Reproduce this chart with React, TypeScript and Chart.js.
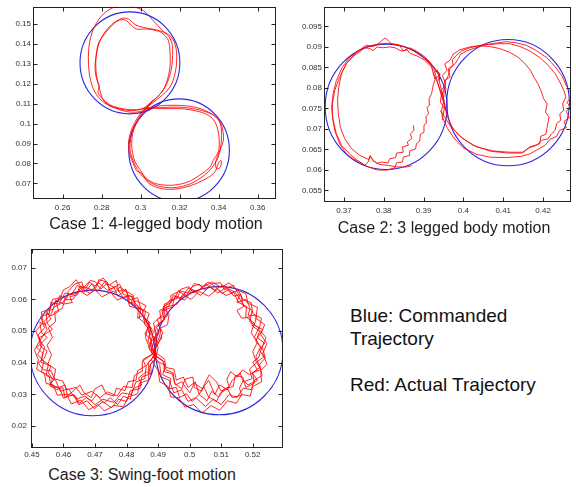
import React, { useEffect, useRef } from "react";
import { Chart, registerables } from "chart.js";

Chart.register(...registerables);

type P = [number, number];

const FONT = "'Liberation Sans', Arial, Helvetica, sans-serif";
const RED = "rgba(255,0,0,0.85)";
const BLUE = "rgb(40,40,225)";

// ---------------- Case 1: 4-legged body motion ----------------
const CASE1_X_TICKS = [0.26, 0.28, 0.3, 0.32, 0.34, 0.36];
const CASE1_Y_TICKS = [0.07, 0.08, 0.09, 0.1, 0.11, 0.12, 0.13, 0.14, 0.15];
const CASE1_X_RANGE = [0.2448, 0.3694];
const CASE1_Y_RANGE = [0.06215, 0.15865];
const CASE1_CMD_CX = [0.2945, 0.3197];
const CASE1_CMD_CY = [0.1305, 0.0866];
const CASE1_CMD_R = [0.0256, 0.0258];
const CASE1_RUN_A: P[] = [
  [0.3014, 0.1075], [0.3065, 0.1117], [0.3108, 0.1158], [0.3133, 0.1208], [0.315, 0.1283], [0.315, 0.1367],
  [0.3142, 0.1417], [0.3116, 0.145], [0.3082, 0.1467], [0.3031, 0.1475], [0.2979, 0.1475], [0.2954, 0.1492],
  [0.2928, 0.1517], [0.2903, 0.1522], [0.2877, 0.1513], [0.2843, 0.1483], [0.2809, 0.1442], [0.2783, 0.14],
  [0.2771, 0.1333], [0.2771, 0.1267], [0.2778, 0.1217], [0.2791, 0.1167], [0.2805, 0.1125], [0.2826, 0.11],
  [0.2868, 0.108], [0.2928, 0.1067], [0.2979, 0.1067], [0.3022, 0.1075], [0.3099, 0.108], [0.3185, 0.1083],
  [0.327, 0.1075], [0.3338, 0.1058], [0.339, 0.1033], [0.341, 0.0992], [0.3415, 0.0942], [0.341, 0.0883],
  [0.3398, 0.0833], [0.3381, 0.08], [0.3347, 0.0758], [0.3304, 0.0725], [0.3253, 0.0697], [0.3185, 0.068],
  [0.3125, 0.068], [0.3074, 0.0692], [0.3031, 0.0717], [0.2997, 0.075], [0.2971, 0.0792], [0.2954, 0.0833],
  [0.2945, 0.0875], [0.2949, 0.0925], [0.2962, 0.0975], [0.2983, 0.1017], [0.3005, 0.105], [0.3031, 0.1083],
  [0.3065, 0.112],
];
const CASE1_RUN_B: P[] = [
  [0.3039, 0.1087], [0.3099, 0.1133], [0.315, 0.1183], [0.3176, 0.125], [0.3185, 0.1333], [0.3176, 0.14],
  [0.315, 0.1442], [0.3116, 0.1463], [0.3065, 0.1517], [0.3014, 0.1567], [0.2962, 0.1587], [0.2911, 0.1597],
  [0.286, 0.1583], [0.2809, 0.155], [0.2766, 0.1492], [0.274, 0.1417], [0.2732, 0.1333], [0.2737, 0.125],
  [0.2754, 0.1183], [0.2783, 0.1133], [0.2826, 0.1097], [0.2877, 0.1075], [0.2945, 0.1058], [0.3005, 0.1062],
  [0.3082, 0.1087], [0.3168, 0.1092], [0.3253, 0.1087], [0.3321, 0.107], [0.3373, 0.1042], [0.3407, 0.1008],
  [0.3421, 0.0967], [0.3424, 0.0917], [0.3407, 0.0867], [0.3392, 0.083], [0.3383, 0.0797], [0.3392, 0.0772],
  [0.341, 0.0785], [0.3412, 0.0815], [0.3398, 0.08], [0.3385, 0.0765], [0.3365, 0.0742], [0.3347, 0.073],
  [0.3287, 0.07], [0.3219, 0.0678], [0.3142, 0.067], [0.3082, 0.068], [0.3039, 0.0703], [0.3005, 0.075],
  [0.2979, 0.0763], [0.2962, 0.08], [0.2942, 0.0853], [0.2938, 0.0908], [0.2949, 0.0958], [0.2968, 0.1003],
  [0.2993, 0.1042], [0.3017, 0.107], [0.3039, 0.1087],
];
const CASE1_RUN_C: P[] = [
  [0.3031, 0.108], [0.3082, 0.113], [0.3125, 0.1183], [0.3154, 0.1258], [0.3164, 0.1342], [0.3159, 0.1408],
  [0.3133, 0.145], [0.3082, 0.147], [0.3014, 0.1483], [0.2971, 0.1497], [0.2945, 0.152], [0.2915, 0.153],
  [0.2885, 0.152], [0.2851, 0.1497], [0.2812, 0.1453], [0.2788, 0.1408], [0.2774, 0.135], [0.2766, 0.1283],
  [0.2774, 0.1225], [0.2788, 0.1187], [0.2781, 0.1158], [0.28, 0.113], [0.2822, 0.1108], [0.286, 0.1087],
  [0.292, 0.1073], [0.2979, 0.107], [0.3031, 0.108], [0.3108, 0.1075], [0.3202, 0.1075], [0.3287, 0.1063],
  [0.3347, 0.1042], [0.3381, 0.1008], [0.3398, 0.0958], [0.3403, 0.0908], [0.3398, 0.0858], [0.3373, 0.0817],
  [0.3356, 0.0783], [0.3304, 0.0742], [0.3244, 0.0708], [0.3176, 0.0692], [0.3116, 0.0692], [0.3065, 0.0703],
  [0.3022, 0.0733], [0.2993, 0.0775], [0.2971, 0.0808], [0.2959, 0.085], [0.2954, 0.09], [0.2959, 0.095],
  [0.2976, 0.0997], [0.2997, 0.1033], [0.3022, 0.1067], [0.3056, 0.1108],
];

// ---------------- Case 2: 3 legged body motion ----------------
const CASE2_X_TICKS = [0.37, 0.38, 0.39, 0.4, 0.41, 0.42];
const CASE2_Y_TICKS = [0.055, 0.06, 0.065, 0.07, 0.075, 0.08, 0.085, 0.09, 0.095];
const CASE2_X_RANGE = [0.365, 0.427];
const CASE2_Y_RANGE = [0.05215, 0.0998];
const CASE2_CMD_CX = [0.3806, 0.4112];
const CASE2_CMD_CY = [0.0754, 0.0764];
const CASE2_CMD_R = [0.0153, 0.0154];
const CASE2_RUN_A: P[] = [
  [0.3874, 0.0709], [0.3876, 0.0696], [0.3867, 0.0688], [0.387, 0.0676], [0.3859, 0.0668], [0.3862, 0.066],
  [0.3847, 0.0656], [0.3849, 0.0643], [0.3832, 0.0641], [0.383, 0.063], [0.3815, 0.0627], [0.3811, 0.0617],
  [0.3794, 0.0619], [0.3782, 0.0615], [0.3773, 0.0625], [0.3765, 0.0633], [0.3761, 0.0619], [0.3752, 0.0611],
  [0.374, 0.0619], [0.3723, 0.0627], [0.3706, 0.0639], [0.3689, 0.0664], [0.3677, 0.0696], [0.3671, 0.0729],
  [0.3671, 0.0761], [0.3677, 0.0794], [0.3689, 0.0826], [0.3706, 0.0859], [0.3727, 0.0883], [0.3744, 0.0896],
  [0.3756, 0.0904], [0.3773, 0.0901], [0.3786, 0.0908], [0.3803, 0.0922], [0.3811, 0.0916], [0.3819, 0.0908],
  [0.384, 0.0904], [0.3849, 0.089], [0.3865, 0.0898], [0.3882, 0.089], [0.3899, 0.0879], [0.3916, 0.0863],
  [0.3928, 0.0847], [0.3941, 0.0835], [0.3939, 0.0818], [0.3945, 0.0794], [0.3953, 0.0761], [0.3957, 0.0737],
  [0.3962, 0.0725], [0.3974, 0.07], [0.3999, 0.0676], [0.4033, 0.0656], [0.4075, 0.0646], [0.4116, 0.0643],
  [0.415, 0.0643], [0.4167, 0.0656], [0.418, 0.066], [0.4192, 0.0664], [0.4194, 0.0682], [0.4207, 0.0687],
  [0.421, 0.0704], [0.4215, 0.0729], [0.4206, 0.0741], [0.421, 0.0761], [0.4201, 0.0774], [0.4196, 0.079],
  [0.4187, 0.081], [0.4177, 0.0826], [0.4168, 0.0843], [0.4153, 0.0861], [0.4137, 0.0875], [0.4116, 0.0887],
  [0.4091, 0.0896], [0.4066, 0.0901], [0.4041, 0.0903], [0.4016, 0.09], [0.3991, 0.0893], [0.3974, 0.0882],
  [0.3966, 0.0867], [0.3953, 0.0859], [0.3959, 0.0843], [0.3947, 0.083], [0.3956, 0.081], [0.3945, 0.0794],
  [0.3951, 0.077], [0.3945, 0.0745], [0.3948, 0.0721],
];
const CASE2_RUN_B: P[] = [
  [0.3949, 0.0778], [0.3951, 0.081], [0.3962, 0.083], [0.3966, 0.0847], [0.3979, 0.0859], [0.3987, 0.0871],
  [0.3993, 0.0882], [0.4008, 0.089], [0.4024, 0.0896], [0.4041, 0.0901], [0.4058, 0.0906], [0.4079, 0.0909],
  [0.4108, 0.0913], [0.4133, 0.091], [0.4158, 0.0904], [0.4183, 0.0891], [0.4209, 0.0874], [0.423, 0.0852],
  [0.4247, 0.083], [0.4258, 0.0806], [0.4268, 0.079], [0.4269, 0.0774], [0.4259, 0.0765], [0.427, 0.0752],
  [0.4258, 0.0743], [0.4266, 0.0727], [0.4253, 0.0719], [0.4258, 0.0703], [0.4241, 0.0696], [0.4234, 0.0682],
  [0.4217, 0.0674], [0.4205, 0.066], [0.4185, 0.0649], [0.4167, 0.0639], [0.4146, 0.0633], [0.4108, 0.063],
  [0.4066, 0.0631], [0.4033, 0.0638], [0.3999, 0.0654], [0.3976, 0.0678], [0.3959, 0.0703], [0.3948, 0.0727],
  [0.3953, 0.0757], [0.3942, 0.079], [0.3934, 0.0818], [0.3928, 0.0839], [0.3916, 0.0859], [0.3895, 0.0877],
  [0.3874, 0.0891], [0.3853, 0.09], [0.3832, 0.0906], [0.3807, 0.0909], [0.3782, 0.0906], [0.3756, 0.09],
  [0.3735, 0.089], [0.3715, 0.0875], [0.3696, 0.0851], [0.3681, 0.0818], [0.3673, 0.0786], [0.3669, 0.0753],
  [0.3673, 0.0721], [0.3681, 0.0688], [0.3694, 0.066], [0.3715, 0.0638], [0.3735, 0.0622], [0.3756, 0.0609],
  [0.3782, 0.06], [0.3807, 0.0599], [0.3828, 0.0605], [0.3832, 0.0617], [0.3847, 0.0619], [0.3849, 0.0631],
  [0.3864, 0.0635], [0.3865, 0.0646], [0.388, 0.0651], [0.3882, 0.0664], [0.389, 0.067], [0.3892, 0.0687],
  [0.3901, 0.0692], [0.3901, 0.0709], [0.3907, 0.0714], [0.3906, 0.073], [0.3912, 0.0737], [0.3909, 0.0752],
  [0.3916, 0.076], [0.3914, 0.0774], [0.392, 0.0786], [0.3924, 0.0806], [0.3931, 0.0826],
];
const CASE2_RUN_C: P[] = [
  [0.3942, 0.0745], [0.3966, 0.0709], [0.3991, 0.0682], [0.4024, 0.066], [0.4066, 0.0646], [0.4108, 0.0641],
  [0.4146, 0.0641], [0.4165, 0.0654], [0.4184, 0.066], [0.4196, 0.0672], [0.4213, 0.0676], [0.4221, 0.0688],
  [0.423, 0.0696], [0.4234, 0.0713], [0.4244, 0.0721], [0.4242, 0.0737], [0.4252, 0.0745], [0.4249, 0.0761],
  [0.4257, 0.0778], [0.4252, 0.0794], [0.4242, 0.0814], [0.423, 0.0835], [0.4213, 0.0855], [0.4192, 0.0874],
  [0.4167, 0.089], [0.4142, 0.0901], [0.4116, 0.0908], [0.4091, 0.0908], [0.4066, 0.0906], [0.4041, 0.0904],
  [0.4016, 0.0898], [0.3995, 0.089], [0.3982, 0.0879], [0.3972, 0.0869], [0.3974, 0.0855], [0.3962, 0.0847],
  [0.3966, 0.0826], [0.3953, 0.0818], [0.3956, 0.0796], [0.3945, 0.0786], [0.3942, 0.0765], [0.3956, 0.0745],
  [0.3947, 0.0778], [0.3939, 0.0802], [0.3932, 0.082], [0.3924, 0.0836], [0.3934, 0.0844], [0.3939, 0.083],
  [0.3928, 0.0822], [0.392, 0.0851], [0.3903, 0.0867], [0.3886, 0.0877], [0.3865, 0.0885], [0.3859, 0.0893],
  [0.3844, 0.089], [0.3828, 0.0898], [0.3815, 0.09], [0.3798, 0.0898], [0.3783, 0.09], [0.3773, 0.0891],
  [0.3765, 0.0896], [0.3752, 0.0898], [0.3738, 0.0887], [0.3723, 0.0877], [0.3706, 0.0859], [0.3694, 0.0835],
  [0.3687, 0.0802], [0.3684, 0.077], [0.3686, 0.0737], [0.3691, 0.0704], [0.3702, 0.0676], [0.3719, 0.0652],
  [0.374, 0.0635], [0.3763, 0.0625], [0.3766, 0.0635], [0.3773, 0.0622], [0.379, 0.0613], [0.3811, 0.0611],
  [0.3832, 0.0607], [0.3857, 0.0607], [0.387, 0.061],
];

// ---------------- Case 3: Swing-foot motion ----------------
const CASE3_X_TICKS = [0.45, 0.46, 0.47, 0.48, 0.49, 0.5, 0.51, 0.52];
const CASE3_Y_TICKS = [0.02, 0.03, 0.04, 0.05, 0.06, 0.07];
const CASE3_X_RANGE = [0.4497, 0.5296];
const CASE3_Y_RANGE = [0.01312, 0.07594];
const CASE3_CMD_CX = [0.4692, 0.5094];
const CASE3_CMD_CY = [0.0431, 0.0438];
const CASE3_CMD_R = [0.0198, 0.0202];
const CASE3_RUN_1: P[] = [
  [0.488, 0.043], [0.4872, 0.0505], [0.4858, 0.052], [0.485, 0.0566], [0.483, 0.0585], [0.4812, 0.0612],
  [0.479, 0.0605], [0.4765, 0.064], [0.474, 0.0628], [0.4712, 0.0652], [0.469, 0.063], [0.466, 0.0642],
  [0.464, 0.0618], [0.461, 0.0612], [0.4598, 0.059], [0.457, 0.0575], [0.456, 0.0552], [0.4538, 0.053],
  [0.4548, 0.0505], [0.4525, 0.047], [0.454, 0.045], [0.453, 0.041], [0.4552, 0.0395], [0.4545, 0.036],
  [0.4575, 0.0345], [0.459, 0.031], [0.4615, 0.0318], [0.464, 0.0285], [0.4668, 0.0295], [0.47, 0.0268],
  [0.4725, 0.0285], [0.476, 0.0275], [0.4785, 0.0305], [0.4815, 0.03], [0.483, 0.034], [0.4858, 0.035],
  [0.4862, 0.039], [0.4885, 0.042],
  [0.4895, 0.047], [0.4888, 0.051], [0.491, 0.053], [0.4905, 0.0565], [0.4935, 0.058], [0.4948, 0.0612],
  [0.4975, 0.0605], [0.4995, 0.0635], [0.5025, 0.0625], [0.505, 0.0648], [0.508, 0.063], [0.5105, 0.0645],
  [0.513, 0.062], [0.5155, 0.0628], [0.517, 0.0598], [0.5195, 0.059], [0.52, 0.0555], [0.5228, 0.054],
  [0.522, 0.0505], [0.5242, 0.048], [0.523, 0.045], [0.524, 0.0415], [0.5222, 0.0395], [0.523, 0.036],
  [0.5205, 0.0345], [0.5195, 0.0315], [0.517, 0.032], [0.515, 0.029], [0.5125, 0.03], [0.51, 0.0268],
  [0.5075, 0.0285], [0.505, 0.0262], [0.502, 0.029], [0.4995, 0.0278], [0.4975, 0.0315], [0.495, 0.0305],
  [0.4935, 0.0345], [0.491, 0.0355], [0.4905, 0.0395], [0.4882, 0.042],
];
const CASE3_RUN_2: P[] = [
  [0.4875, 0.044], [0.486, 0.048], [0.4868, 0.0515], [0.484, 0.054], [0.4845, 0.057], [0.481, 0.0578],
  [0.48, 0.061], [0.477, 0.0598], [0.475, 0.0622], [0.4722, 0.0608], [0.47, 0.063], [0.4675, 0.0612],
  [0.465, 0.0628], [0.463, 0.06], [0.4605, 0.0598], [0.4595, 0.057], [0.4572, 0.056], [0.4575, 0.053],
  [0.4552, 0.051], [0.4565, 0.048], [0.4548, 0.0455], [0.4562, 0.0425], [0.455, 0.0395], [0.4575, 0.038],
  [0.457, 0.035], [0.4598, 0.0342], [0.461, 0.0315], [0.464, 0.0322], [0.4658, 0.0298], [0.469, 0.031],
  [0.4715, 0.029], [0.474, 0.0308], [0.477, 0.0295], [0.479, 0.0325], [0.4818, 0.0322], [0.4825, 0.036],
  [0.4852, 0.0375], [0.485, 0.0405], [0.488, 0.0425],
  [0.49, 0.046], [0.4915, 0.0495], [0.49, 0.052], [0.493, 0.0548], [0.4925, 0.0575], [0.496, 0.0585],
  [0.4978, 0.0615], [0.5005, 0.06], [0.503, 0.0625], [0.506, 0.061], [0.5088, 0.0632], [0.5115, 0.0612],
  [0.514, 0.0622], [0.5155, 0.059], [0.518, 0.0578], [0.5178, 0.0545], [0.5205, 0.0525], [0.5195, 0.0495],
  [0.5215, 0.0465], [0.52, 0.0435], [0.5212, 0.04], [0.519, 0.038], [0.5198, 0.035], [0.517, 0.034],
  [0.516, 0.0368], [0.5135, 0.0345], [0.512, 0.0315], [0.5095, 0.033], [0.508, 0.03], [0.506, 0.0345],
  [0.504, 0.0318], [0.5015, 0.0335], [0.5, 0.0305], [0.4975, 0.034], [0.4955, 0.033], [0.4945, 0.0365],
  [0.492, 0.0372], [0.4918, 0.0405], [0.489, 0.0425],
];
const CASE3_RUN_3: P[] = [
  [0.489, 0.0425], [0.4878, 0.0465], [0.4885, 0.05], [0.4862, 0.0528], [0.4872, 0.0555], [0.4845, 0.0572],
  [0.4835, 0.0605], [0.481, 0.0598], [0.4798, 0.0632], [0.4775, 0.0625], [0.4768, 0.066], [0.4745, 0.0645],
  [0.4725, 0.0668], [0.47, 0.0642], [0.468, 0.0655], [0.466, 0.0632], [0.464, 0.0662], [0.462, 0.064],
  [0.46, 0.063], [0.459, 0.0605], [0.4565, 0.06], [0.4558, 0.057], [0.453, 0.056], [0.4535, 0.0525],
  [0.4512, 0.05], [0.4525, 0.047], [0.4508, 0.044], [0.452, 0.041], [0.4515, 0.038], [0.454, 0.0365],
  [0.4545, 0.0335], [0.4568, 0.033], [0.458, 0.0298], [0.461, 0.03], [0.4625, 0.027], [0.4655, 0.0282],
  [0.468, 0.0252], [0.471, 0.0268], [0.473, 0.0248], [0.476, 0.0265], [0.479, 0.0262], [0.4805, 0.0292],
  [0.4835, 0.0302], [0.484, 0.0335], [0.4868, 0.0345], [0.487, 0.0385], [0.4892, 0.0415],
  [0.488, 0.0445], [0.4895, 0.049], [0.4885, 0.0525], [0.4915, 0.0552], [0.492, 0.0585], [0.495, 0.0598],
  [0.4965, 0.0628], [0.4995, 0.062], [0.5015, 0.065], [0.5045, 0.064], [0.507, 0.0655], [0.51, 0.0638],
  [0.5125, 0.0652], [0.515, 0.063], [0.5178, 0.0618], [0.5185, 0.0588], [0.5215, 0.0575], [0.521, 0.054],
  [0.5238, 0.052], [0.5225, 0.049], [0.5245, 0.046], [0.5232, 0.043], [0.5245, 0.0395], [0.5225, 0.0375],
  [0.5228, 0.034], [0.52, 0.0325], [0.5192, 0.0295], [0.5165, 0.03], [0.5148, 0.0272], [0.512, 0.028],
  [0.5095, 0.025], [0.5068, 0.0265], [0.504, 0.0242], [0.5012, 0.0268], [0.4985, 0.026], [0.4965, 0.029],
  [0.494, 0.0292], [0.4932, 0.0325], [0.4905, 0.034], [0.49, 0.0375], [0.4878, 0.041],
];
const CASE3_RUN_4: P[] = [
  [0.4885, 0.0435], [0.4868, 0.047], [0.4878, 0.051], [0.4855, 0.0535], [0.486, 0.0562], [0.4828, 0.0575],
  [0.4822, 0.0608], [0.479, 0.0615], [0.4778, 0.0648], [0.475, 0.0632], [0.473, 0.0655], [0.4708, 0.0625],
  [0.469, 0.0648], [0.4665, 0.0622], [0.4645, 0.0645], [0.4625, 0.0615], [0.4605, 0.062], [0.4585, 0.0585],
  [0.456, 0.059], [0.4555, 0.0555], [0.4528, 0.0545], [0.454, 0.051], [0.452, 0.0488], [0.4532, 0.0455],
  [0.4518, 0.0425], [0.4538, 0.0405], [0.453, 0.0372], [0.4555, 0.0358], [0.456, 0.0325], [0.4588, 0.032],
  [0.46, 0.0288], [0.4632, 0.03], [0.4648, 0.0268], [0.4675, 0.028], [0.4698, 0.0255], [0.4725, 0.0278],
  [0.4752, 0.0258], [0.4775, 0.0285], [0.48, 0.0278], [0.4812, 0.0312], [0.4842, 0.0318], [0.4848, 0.0355],
  [0.4875, 0.0365], [0.4868, 0.04], [0.489, 0.0422],
  [0.4892, 0.045], [0.4905, 0.0485], [0.4895, 0.0512], [0.492, 0.0535], [0.4912, 0.0565], [0.4945, 0.0575],
  [0.4952, 0.0608], [0.4985, 0.0598], [0.5008, 0.063], [0.5035, 0.0612], [0.5062, 0.064], [0.509, 0.062],
  [0.5118, 0.064], [0.514, 0.061], [0.5162, 0.0615], [0.517, 0.058], [0.5198, 0.0565], [0.519, 0.053],
  [0.522, 0.051], [0.5205, 0.048], [0.5225, 0.045], [0.521, 0.042], [0.5222, 0.0385], [0.52, 0.0368],
  [0.5205, 0.0335], [0.5178, 0.0322], [0.5168, 0.0355], [0.5145, 0.036], [0.5138, 0.0325], [0.511, 0.0318],
  [0.5092, 0.0292], [0.507, 0.031], [0.5055, 0.028], [0.503, 0.03], [0.5018, 0.034], [0.4995, 0.0322],
  [0.498, 0.0355], [0.4958, 0.0345], [0.495, 0.038], [0.4925, 0.0385], [0.492, 0.0412], [0.4895, 0.043],
];
const CASE3_RUN_5: P[] = [
  [0.4888, 0.0418], [0.487, 0.0448], [0.4882, 0.0472], [0.4858, 0.049], [0.4875, 0.0525], [0.485, 0.0548],
  [0.4835, 0.054], [0.4838, 0.0575], [0.4815, 0.059], [0.4822, 0.0612], [0.4795, 0.0628], [0.4772, 0.061],
  [0.476, 0.0638], [0.4738, 0.065], [0.4718, 0.0632], [0.4702, 0.0655], [0.4685, 0.066], [0.4672, 0.0635],
  [0.465, 0.064], [0.4645, 0.0615], [0.462, 0.0608], [0.4628, 0.059], [0.46, 0.0585], [0.4575, 0.0598],
  [0.4568, 0.057], [0.4548, 0.0562], [0.456, 0.0538], [0.454, 0.052], [0.4525, 0.0528], [0.453, 0.0495],
  [0.4548, 0.048], [0.453, 0.0462], [0.4515, 0.0448], [0.4535, 0.043], [0.4528, 0.0402], [0.456, 0.039],
  [0.4552, 0.0368], [0.4565, 0.035], [0.456, 0.033], [0.4585, 0.0322], [0.4605, 0.033], [0.4612, 0.03],
  [0.4638, 0.0295], [0.465, 0.0272], [0.4672, 0.029], [0.469, 0.028], [0.4705, 0.03], [0.4728, 0.0272],
  [0.4748, 0.029], [0.4772, 0.0268], [0.479, 0.0295], [0.4812, 0.0285], [0.482, 0.0318], [0.4848, 0.033],
  [0.4838, 0.0352], [0.4862, 0.0372], [0.488, 0.0362], [0.4875, 0.0395], [0.4892, 0.0412],
  [0.49, 0.0448], [0.4888, 0.0482], [0.4908, 0.05], [0.4898, 0.0538], [0.4922, 0.0548], [0.4918, 0.0578],
  [0.4942, 0.059], [0.494, 0.0612], [0.4965, 0.0625], [0.499, 0.0612], [0.5008, 0.064], [0.503, 0.0648],
  [0.5048, 0.0628], [0.5072, 0.065], [0.5098, 0.0652], [0.511, 0.063], [0.5138, 0.0645], [0.5158, 0.0612],
  [0.515, 0.059], [0.5178, 0.06], [0.5192, 0.0572], [0.5185, 0.055], [0.5212, 0.0548], [0.5205, 0.0518],
  [0.5232, 0.0505], [0.5215, 0.0478], [0.5238, 0.0462], [0.5222, 0.044], [0.5235, 0.0418], [0.5212, 0.0402],
  [0.5225, 0.0378], [0.5198, 0.0368], [0.5215, 0.0345], [0.5185, 0.033], [0.517, 0.0345], [0.5158, 0.032],
  [0.5165, 0.0298], [0.5135, 0.029], [0.512, 0.0318], [0.5098, 0.0305], [0.5085, 0.0278], [0.506, 0.0292],
  [0.5045, 0.0325], [0.503, 0.03], [0.5008, 0.0278], [0.499, 0.0302], [0.4968, 0.029], [0.4958, 0.0322],
  [0.4935, 0.0318], [0.494, 0.035], [0.4915, 0.0362], [0.4922, 0.0392], [0.4898, 0.0405], [0.4885, 0.0425],
];
const CASE3_RUN_6: P[] = [
  [0.4878, 0.044], [0.489, 0.0478], [0.4868, 0.0498], [0.487, 0.053], [0.4848, 0.0552], [0.4862, 0.058],
  [0.4832, 0.0595], [0.4808, 0.0588], [0.4802, 0.062], [0.478, 0.064], [0.4765, 0.0622], [0.4745, 0.0628],
  [0.4738, 0.0655], [0.4712, 0.0662], [0.4705, 0.064], [0.4685, 0.0618], [0.4665, 0.063], [0.4658, 0.0655],
  [0.4635, 0.0648], [0.4615, 0.0625], [0.461, 0.06], [0.4588, 0.0612], [0.4578, 0.0585], [0.4585, 0.0562],
  [0.456, 0.0548], [0.4545, 0.0558], [0.4548, 0.0525], [0.4565, 0.0505], [0.4545, 0.0492], [0.4522, 0.0478],
  [0.4528, 0.045], [0.4548, 0.0438], [0.454, 0.0415], [0.452, 0.04], [0.4535, 0.0378], [0.456, 0.0375],
  [0.4572, 0.0348], [0.4555, 0.033], [0.4578, 0.0315], [0.4598, 0.0322], [0.4605, 0.029], [0.463, 0.031],
  [0.4652, 0.033], [0.4665, 0.0305], [0.4688, 0.029], [0.47, 0.0318], [0.4722, 0.033], [0.4735, 0.0302],
  [0.476, 0.0295], [0.4768, 0.032], [0.4795, 0.0312], [0.4805, 0.034], [0.483, 0.0345], [0.4835, 0.0375],
  [0.486, 0.039], [0.4852, 0.041], [0.4882, 0.0428],
  [0.4895, 0.0455], [0.4912, 0.0478], [0.4905, 0.0508], [0.493, 0.052], [0.4935, 0.0555], [0.4915, 0.0572],
  [0.4938, 0.0598], [0.496, 0.0602], [0.4972, 0.0632], [0.4998, 0.064], [0.5012, 0.062], [0.504, 0.0635],
  [0.5058, 0.0655], [0.5082, 0.064], [0.5102, 0.0618], [0.5125, 0.0632], [0.5145, 0.0622], [0.516, 0.06],
  [0.5172, 0.0578], [0.515, 0.0565], [0.5165, 0.054], [0.519, 0.0545], [0.52, 0.0515], [0.5222, 0.05],
  [0.521, 0.0468], [0.5228, 0.0445], [0.5218, 0.0415], [0.52, 0.0402], [0.5215, 0.0378], [0.519, 0.0362],
  [0.5168, 0.0378], [0.5152, 0.0355], [0.513, 0.0372], [0.5118, 0.0348], [0.5125, 0.0325], [0.51, 0.031],
  [0.5085, 0.034], [0.5062, 0.0362], [0.5048, 0.0335], [0.5038, 0.031], [0.5015, 0.0322], [0.501, 0.0355],
  [0.4985, 0.0348], [0.4975, 0.0318], [0.4952, 0.0335], [0.4948, 0.0368], [0.4925, 0.0378], [0.4915, 0.0405],
  [0.489, 0.0422],
];

function makeMatlabPlugin(cx: number[], cy: number[], r: number[]) {
  return {
    id: "matlabAxes",
    beforeDatasetsDraw(chart: any) {
      const { ctx, chartArea: a, scales } = chart;
      const xs = scales.x;
      const ys = scales.y;
      ctx.save();
      ctx.beginPath();
      ctx.rect(a.left, a.top, a.right - a.left, a.bottom - a.top);
      ctx.clip();
      ctx.strokeStyle = BLUE;
      ctx.lineWidth = 1.1;
      cx.forEach((c, i) => {
        const px = xs.getPixelForValue(c);
        const py = ys.getPixelForValue(cy[i]);
        const rx = Math.abs(xs.getPixelForValue(c + r[i]) - px);
        const ry = Math.abs(ys.getPixelForValue(cy[i] + r[i]) - py);
        ctx.beginPath();
        ctx.ellipse(px, py, rx, ry, 0, 0, Math.PI * 2);
        ctx.stroke();
      });
      ctx.restore();
    },
    afterDraw(chart: any) {
      const { ctx, chartArea: a, scales } = chart;
      const xs = scales.x;
      const ys = scales.y;
      const l = Math.round(a.left) + 0.5;
      const t = Math.round(a.top) + 0.5;
      const rr = Math.round(a.right) - 0.5;
      const b = Math.round(a.bottom) - 0.5;
      ctx.save();
      ctx.strokeStyle = "#222";
      ctx.lineWidth = 1;
      ctx.strokeRect(l, t, rr - l, b - t);
      ctx.beginPath();
      const len = 4;
      xs.ticks.forEach((tk: any) => {
        const px = Math.round(xs.getPixelForValue(tk.value)) + 0.5;
        ctx.moveTo(px, b);
        ctx.lineTo(px, b - len);
        ctx.moveTo(px, t);
        ctx.lineTo(px, t + len);
      });
      ys.ticks.forEach((tk: any) => {
        const py = Math.round(ys.getPixelForValue(tk.value)) + 0.5;
        ctx.moveTo(l, py);
        ctx.lineTo(l + len, py);
        ctx.moveTo(rr, py);
        ctx.lineTo(rr - len, py);
      });
      ctx.stroke();
      ctx.restore();
    },
  };
}

type PanelProps = {
  left: number;
  top: number;
  width: number;
  height: number;
  padTop: number;
  padRight: number;
  yAxisW: number;
  xAxisH: number;
  xPad: number;
  yPad: number;
  xRange: number[];
  yRange: number[];
  xTicks: number[];
  yTicks: number[];
  runs: P[][];
  cx: number[];
  cy: number[];
  r: number[];
  tension: number;
};

const fmt = (v: any) => String(parseFloat(Number(v).toFixed(4)));

function Panel(p: PanelProps) {
  const ref = useRef<HTMLCanvasElement | null>(null);
  useEffect(() => {
    if (!ref.current) return;
    const tickFont = { family: FONT, size: 8 };
    const chart = new Chart(ref.current, {
      type: "scatter",
      data: {
        datasets: p.runs.map((run) => ({
          data: run.map(([x, y]) => ({ x, y })),
          showLine: true,
          borderColor: RED,
          backgroundColor: RED,
          borderWidth: 1,
          pointRadius: 0,
          pointHoverRadius: 0,
          tension: p.tension,
          fill: false,
        })),
      },
      options: {
        animation: false,
        responsive: false,
        devicePixelRatio: 1,
        events: [],
        layout: { padding: { top: p.padTop, right: p.padRight, left: 0, bottom: 0 } },
        plugins: { legend: { display: false }, tooltip: { enabled: false }, title: { display: false } },
        scales: {
          x: {
            type: "linear",
            min: p.xRange[0],
            max: p.xRange[1],
            afterBuildTicks: (s: any) => {
              s.ticks = p.xTicks.map((v) => ({ value: v }));
            },
            afterFit: (s: any) => {
              s.height = p.xAxisH;
            },
            ticks: { font: tickFont, color: "#333", padding: p.xPad, callback: fmt, maxRotation: 0, autoSkip: false },
            grid: { display: false, drawTicks: false },
            border: { display: false },
          },
          y: {
            type: "linear",
            min: p.yRange[0],
            max: p.yRange[1],
            afterBuildTicks: (s: any) => {
              s.ticks = p.yTicks.map((v) => ({ value: v }));
            },
            afterFit: (s: any) => {
              s.width = p.yAxisW;
            },
            ticks: { font: tickFont, color: "#333", padding: p.yPad, callback: fmt, autoSkip: false },
            grid: { display: false, drawTicks: false },
            border: { display: false },
          },
        },
      } as any,
      plugins: [makeMatlabPlugin(p.cx, p.cy, p.r)],
    } as any);
    return () => chart.destroy();
  }, []);
  return (
    <canvas
      ref={ref}
      width={p.width}
      height={p.height}
      style={{ position: "absolute", left: p.left, top: p.top, width: p.width, height: p.height }}
    />
  );
}

const titleStyle = (left: number, top: number, width: number): React.CSSProperties => ({
  position: "absolute",
  left,
  top,
  width,
  textAlign: "center",
  fontFamily: FONT,
  fontSize: 16,
  lineHeight: "16px",
  color: "#222",
  whiteSpace: "nowrap",
});

export default function App() {
  return (
    <div
      style={{
        position: "absolute",
        left: 0,
        top: 0,
        width: 576,
        height: 487,
        background: "#fff",
        overflow: "hidden",
      }}
    >
      <Panel
        left={0}
        top={0}
        width={290}
        height={215}
        padTop={6}
        padRight={14}
        yAxisW={33}
        xAxisH={16}
        xPad={4}
        yPad={2}
        xRange={CASE1_X_RANGE}
        yRange={CASE1_Y_RANGE}
        xTicks={CASE1_X_TICKS}
        yTicks={CASE1_Y_TICKS}
        runs={[CASE1_RUN_A, CASE1_RUN_B, CASE1_RUN_C]}
        cx={CASE1_CMD_CX}
        cy={CASE1_CMD_CY}
        r={CASE1_CMD_R}
        tension={0.35}
      />
      <Panel
        left={290}
        top={0}
        width={286}
        height={220}
        padTop={6}
        padRight={5}
        yAxisW={34}
        xAxisH={18}
        xPad={4}
        yPad={2}
        xRange={CASE2_X_RANGE}
        yRange={CASE2_Y_RANGE}
        xTicks={CASE2_X_TICKS}
        yTicks={CASE2_Y_TICKS}
        runs={[CASE2_RUN_A, CASE2_RUN_B, CASE2_RUN_C]}
        cx={CASE2_CMD_CX}
        cy={CASE2_CMD_CY}
        r={CASE2_CMD_R}
        tension={0}
      />
      <Panel
        left={0}
        top={240}
        width={300}
        height={225}
        padTop={7}
        padRight={17}
        yAxisW={31}
        xAxisH={17}
        xPad={2}
        yPad={4}
        xRange={CASE3_X_RANGE}
        yRange={CASE3_Y_RANGE}
        xTicks={CASE3_X_TICKS}
        yTicks={CASE3_Y_TICKS}
        runs={[CASE3_RUN_1, CASE3_RUN_2, CASE3_RUN_3, CASE3_RUN_4, CASE3_RUN_5, CASE3_RUN_6]}
        cx={CASE3_CMD_CX}
        cy={CASE3_CMD_CY}
        r={CASE3_CMD_R}
        tension={0}
      />
      <div style={titleStyle(6, 216, 300)}>Case 1: 4-legged body motion</div>
      <div style={titleStyle(294, 220, 300)}>Case 2: 3 legged body motion</div>
      <div style={titleStyle(42, 467, 200)}>Case 3: Swing-foot motion</div>
      <div
        style={{
          position: "absolute",
          left: 350,
          top: 304,
          fontFamily: FONT,
          fontSize: 19,
          lineHeight: "23px",
          color: "#111",
          whiteSpace: "nowrap",
        }}
      >
        <div>Blue: Commanded</div>
        <div>Trajectory</div>
        <div style={{ height: 23 }}></div>
        <div>Red: Actual Trajectory</div>
      </div>
    </div>
  );
}
